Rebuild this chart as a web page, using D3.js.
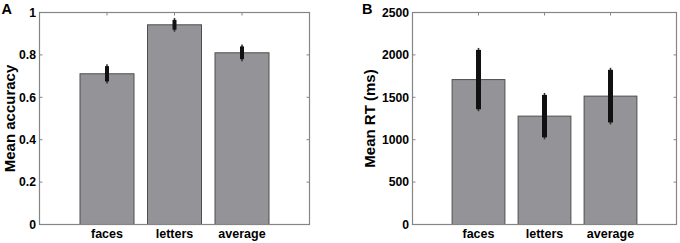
<!DOCTYPE html>
<html>
<head>
<meta charset="utf-8">
<script src="https://cdn.jsdelivr.net/npm/d3@7"></script>
<style>
  body { margin: 0; background: #fff; }
  svg { display: block; font-family: "Liberation Sans", Arial, sans-serif; font-weight: bold; }
</style>
</head>
<body>
<svg id="chart" width="680" height="243"></svg>
<script>
const categories = ["faces", "letters", "average"];
const accMean = [0.711, 0.942, 0.81];
const accErr = [0.036, 0.023, 0.03];
const accTicks = [0, 0.2, 0.4, 0.6, 0.8, 1];
const rtMean = [1709, 1278, 1514];
const rtErr = [350, 250, 310];
const rtTicks = [0, 500, 1000, 1500, 2000, 2500];

const svg = d3.select("#chart");

// one MATLAB-style bar panel
const draw_panel = function (cfg) {
    let g = svg.append("g");
    let x = d3.scaleLinear().domain([0, 4]).range([cfg.left, cfg.right]);
    let y = d3.scaleLinear().domain(cfg.domain).range([cfg.bottom, cfg.top]);
    const axisCol = "#858585";

    // ticks on all four sides, pointing in
    cfg.ticks.forEach(t => {
        g.append("line").attr("x1", cfg.left).attr("x2", cfg.left + 3)
            .attr("y1", y(t)).attr("y2", y(t)).attr("stroke", axisCol);
        g.append("line").attr("x1", cfg.right).attr("x2", cfg.right - 3)
            .attr("y1", y(t)).attr("y2", y(t)).attr("stroke", axisCol);
        g.append("text").attr("x", cfg.left - 3.5).attr("y", y(t) + 4.3)
            .attr("text-anchor", "end").attr("font-size", 12.2).text(d3.format("")(t));
    });
    categories.forEach((c, i) => {
        g.append("line").attr("x1", x(i + 1)).attr("x2", x(i + 1))
            .attr("y1", cfg.top).attr("y2", cfg.top + 3).attr("stroke", axisCol);
        g.append("text").attr("x", x(i + 1)).attr("y", 238)
            .attr("text-anchor", "middle").attr("font-size", 12.5).text(c);
    });

    // bars
    g.selectAll("rect.bar").data(cfg.means).enter().append("rect")
        .attr("class", "bar")
        .attr("x", (d, i) => x(i + 1 - 0.4))
        .attr("width", x(0.8) - x(0))
        .attr("y", d => y(d))
        .attr("height", d => y(cfg.domain[0]) - y(d))
        .attr("fill", "#939398")
        .attr("stroke", "#4e4e50")
        .attr("stroke-width", 1);

    // error bars: thick black line with thin tips
    cfg.means.forEach((m, i) => {
        let cx = x(i + 1);
        g.append("line").attr("x1", cx).attr("x2", cx)
            .attr("y1", y(m - cfg.errs[i]) + 2).attr("y2", y(m + cfg.errs[i]) - 2)
            .attr("stroke", "#333").attr("stroke-width", 1.6);
        g.append("line").attr("x1", cx).attr("x2", cx)
            .attr("y1", y(m - cfg.errs[i])).attr("y2", y(m + cfg.errs[i]))
            .attr("stroke", "#111").attr("stroke-width", cfg.errW);
    });

    // box
    g.append("rect").attr("x", cfg.left).attr("y", cfg.top)
        .attr("width", cfg.right - cfg.left).attr("height", cfg.bottom - cfg.top)
        .attr("fill", "none").attr("stroke", axisCol).attr("stroke-width", 1.2);

    // y label
    g.append("text")
        .attr("transform", `translate(${cfg.labelX},${(cfg.top + cfg.bottom) / 2}) rotate(-90)`)
        .attr("text-anchor", "middle").attr("font-size", 15).text(cfg.ylabel);

    // panel letter
    g.append("text").attr("x", cfg.letterX).attr("y", 13.5)
        .attr("font-size", 14.5).text(cfg.letter);
};

draw_panel({
    left: 39.5, right: 309.5, top: 12.5, bottom: 224.5,
    domain: [0, 1], ticks: accTicks, means: accMean, errs: accErr,
    ylabel: "Mean accuracy", labelX: 15, letter: "A", letterX: 1.5, errW: 4
});

draw_panel({
    left: 412.5, right: 676.5, top: 12.5, bottom: 224.5,
    domain: [0, 2500], ticks: rtTicks, means: rtMean, errs: rtErr,
    ylabel: "Mean RT (ms)", labelX: 375, letter: "B", letterX: 362, errW: 5
});
</script>
</body>
</html>
